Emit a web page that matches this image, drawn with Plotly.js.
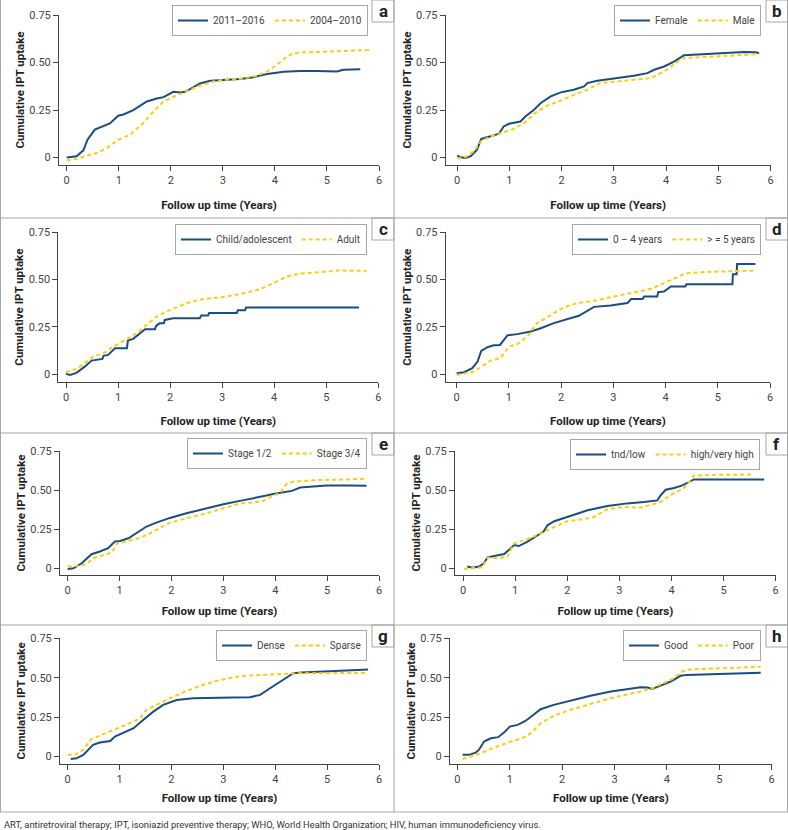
<!DOCTYPE html>
<html>
<head>
<meta charset="utf-8">
<script src="https://cdn.plot.ly/plotly-3.0.1.min.js"></script>
<style>html,body{margin:0;padding:0;background:#fff;}#chart{width:788px;height:830px;}</style>
</head>
<body>
<div id="chart"></div>
<script>
// ---------- DATA ----------
const panelLetters = ['a','b','c','d','e','f','g','h'];
const seriesNames = [
  ['2011–2016','2004–2010'],
  ['Female','Male'],
  ['Child/adolescent','Adult'],
  ['0 – 4 years','> = 5 years'],
  ['Stage 1/2','Stage 3/4'],
  ['tnd/low','high/very high'],
  ['Dense','Sparse'],
  ['Good','Poor']
];
const xTicks = [0,1,2,3,4,5,6];
const yTicks = [0,0.25,0.5,0.75];
const yTickText = ['0','0.25','0.50','0.75'];
const xTitle = 'Follow up time (Years)';
const yTitle = 'Cumulative IPT uptake';
const footnote = 'ART, antiretroviral therapy; IPT, isoniazid preventive therapy; WHO, World Health Organization; HIV, human immunodeficiency virus.';

// panel a
const aBlueX = [0,0.19,0.32,0.40,0.54,0.705,0.83,0.99,1.09,1.28,1.54,1.73,1.86,2.05,2.18,2.28,2.56,2.76,3.0,3.33,3.59,3.85,4.17,4.49,4.81,5.13,5.19,5.32,5.64];
const aBlueY = [0,0.007,0.038,0.094,0.147,0.164,0.18,0.22,0.227,0.25,0.295,0.311,0.318,0.346,0.343,0.346,0.39,0.404,0.409,0.413,0.423,0.44,0.451,0.455,0.455,0.455,0.453,0.462,0.465];
const aYellX = [0,0.19,0.385,0.58,0.77,0.99,1.22,1.47,1.67,1.86,2.05,2.28,2.56,2.82,3.0,3.33,3.65,3.85,4.04,4.23,4.36,4.62,5.0,5.38,5.83];
const aYellY = [-0.014,-0.007,0.01,0.024,0.05,0.094,0.12,0.182,0.243,0.295,0.32,0.348,0.378,0.4,0.409,0.414,0.43,0.453,0.488,0.531,0.549,0.554,0.558,0.561,0.566];
// panel b
const bBlueX = [0,0.064,0.16,0.26,0.38,0.46,0.64,0.8,0.89,0.99,1.21,1.31,1.47,1.6,1.79,1.98,2.23,2.43,2.49,2.68,3.0,3.38,3.64,3.77,3.96,4.15,4.34,4.72,5.1,5.49,5.71,5.78];
const bBlueY = [0.0105,0.002,-0.002,0.007,0.042,0.098,0.112,0.126,0.164,0.178,0.19,0.217,0.252,0.287,0.322,0.343,0.357,0.374,0.392,0.404,0.416,0.43,0.444,0.462,0.479,0.505,0.538,0.545,0.552,0.556,0.554,0.549];
const bYellX = [0,0.16,0.32,0.46,0.64,0.83,1.08,1.28,1.53,1.72,1.98,2.23,2.49,2.74,3.0,3.38,3.7,3.96,4.18,4.31,4.66,5.1,5.55,5.78];
const bYellY = [-0.005,0.003,0.033,0.086,0.112,0.129,0.15,0.182,0.243,0.273,0.299,0.33,0.357,0.392,0.4,0.409,0.418,0.453,0.497,0.523,0.528,0.535,0.542,0.544];
// panel c
const cBlueX = [0,0.08,0.2,0.36,0.49,0.65,0.7,0.72,0.81,0.94,1.17,1.19,1.29,1.52,1.71,1.73,1.8,1.88,1.9,2.06,2.57,2.6,2.73,2.75,3.28,3.3,3.44,3.46,5.63];
const cBlueY = [0.002,-0.004,0.007,0.04,0.072,0.081,0.081,0.097,0.102,0.137,0.137,0.178,0.187,0.238,0.238,0.255,0.269,0.269,0.287,0.296,0.296,0.31,0.31,0.324,0.324,0.338,0.338,0.352,0.352];
const cYellX = [0,0.2,0.4,0.52,0.72,0.91,1.17,1.36,1.55,1.74,2.0,2.32,2.64,2.96,3.34,3.73,3.98,4.24,4.49,4.88,5.26,5.77];
const cYellY = [0.011,0.028,0.067,0.093,0.111,0.146,0.187,0.217,0.261,0.305,0.34,0.375,0.398,0.405,0.423,0.449,0.481,0.516,0.532,0.542,0.548,0.546];
// panel d
const dBlueX = [0,0.14,0.3,0.4,0.47,0.59,0.71,0.83,0.97,1.16,1.42,1.61,1.86,2.12,2.34,2.63,2.95,3.27,3.34,3.56,3.59,3.84,3.86,3.97,4.1,4.38,4.4,5.28,5.29,5.36,5.37,5.72];
const dBlueY = [0.005,0.011,0.032,0.067,0.123,0.143,0.153,0.155,0.205,0.212,0.226,0.243,0.27,0.293,0.309,0.356,0.363,0.376,0.397,0.397,0.411,0.411,0.434,0.437,0.464,0.464,0.476,0.476,0.529,0.529,0.582,0.582];
const dYellX = [0,0.14,0.33,0.52,0.65,0.84,1.0,1.16,1.35,1.54,1.8,2.05,2.31,2.63,3.01,3.4,3.71,3.97,4.22,4.38,4.74,5.18,5.5,5.72];
const dYellY = [-0.004,0.002,0.014,0.049,0.072,0.085,0.146,0.159,0.199,0.27,0.314,0.353,0.376,0.388,0.411,0.432,0.45,0.481,0.511,0.533,0.54,0.543,0.547,0.548];
// panel e
const eBlueX = [0,0.11,0.27,0.46,0.62,0.78,0.91,1.01,1.17,1.33,1.52,1.71,1.97,2.29,2.68,3.0,3.32,3.71,3.83,3.96,4.16,4.32,4.48,4.67,4.99,5.44,5.76];
const eBlueY = [-0.004,0,0.032,0.09,0.107,0.128,0.171,0.175,0.192,0.228,0.267,0.292,0.322,0.352,0.384,0.409,0.431,0.454,0.465,0.475,0.484,0.495,0.516,0.522,0.529,0.529,0.527];
const eYellX = [0,0.24,0.37,0.49,0.69,0.85,0.94,1.14,1.39,1.59,1.78,1.97,2.29,2.68,3.0,3.32,3.58,3.74,3.9,4.1,4.21,4.35,4.73,5.12,5.5,5.76];
const eYellY = [0.011,0.017,0.028,0.064,0.085,0.1,0.156,0.171,0.194,0.224,0.26,0.292,0.32,0.352,0.384,0.414,0.422,0.426,0.454,0.484,0.537,0.554,0.563,0.565,0.569,0.574];
// panel f
const fBlueX = [0.08,0.18,0.31,0.4,0.47,0.6,0.79,0.88,0.98,1.07,1.23,1.42,1.55,1.62,1.75,2.0,2.39,2.77,3.15,3.47,3.73,3.79,3.89,4.05,4.21,4.43,4.75,5.78];
const fBlueY = [0.011,0.004,0.011,0.032,0.07,0.078,0.091,0.117,0.148,0.142,0.169,0.208,0.237,0.275,0.301,0.328,0.371,0.398,0.415,0.424,0.434,0.466,0.502,0.513,0.53,0.568,0.568,0.568];
const fYellX = [0.02,0.21,0.37,0.47,0.66,0.85,0.98,1.23,1.49,1.68,2.0,2.32,2.51,2.77,3.09,3.41,3.67,3.79,3.99,4.24,4.43,4.75,5.59];
const fYellY = [-0.004,0,0.006,0.068,0.064,0.074,0.159,0.186,0.222,0.254,0.301,0.314,0.328,0.377,0.392,0.388,0.413,0.424,0.47,0.513,0.593,0.597,0.6];
// panel g
const gBlueX = [0.06,0.17,0.3,0.4,0.49,0.62,0.82,0.91,1.14,1.27,1.46,1.65,1.84,2.1,2.42,2.81,3.19,3.51,3.71,3.9,4.16,4.35,4.51,4.86,5.25,5.79];
const gBlueY = [-0.015,-0.011,0.011,0.047,0.074,0.089,0.099,0.127,0.163,0.18,0.233,0.285,0.328,0.359,0.37,0.374,0.374,0.376,0.391,0.433,0.486,0.529,0.533,0.537,0.543,0.552];
const gYellX = [0,0.14,0.3,0.46,0.62,0.82,1.01,1.27,1.39,1.52,1.71,1.97,2.29,2.61,2.94,3.19,3.51,3.83,4.16,4.48,4.99,5.44,5.79];
const gYellY = [0.011,0.011,0.042,0.112,0.133,0.159,0.184,0.222,0.243,0.296,0.328,0.37,0.416,0.455,0.486,0.503,0.514,0.518,0.522,0.529,0.529,0.531,0.531];
// panel h
const hBlueX = [0.1,0.22,0.35,0.41,0.51,0.64,0.78,0.89,1.0,1.15,1.3,1.46,1.59,1.84,2.16,2.54,2.93,3.24,3.5,3.63,3.72,3.88,4.07,4.26,4.39,4.84,5.28,5.79];
const hBlueY = [0.011,0.011,0.025,0.042,0.095,0.116,0.123,0.152,0.19,0.201,0.226,0.264,0.3,0.328,0.355,0.385,0.412,0.429,0.44,0.438,0.429,0.45,0.476,0.512,0.518,0.522,0.526,0.531];
const hYellX = [0.1,0.25,0.45,0.64,0.83,1.02,1.27,1.4,1.59,1.84,2.1,2.42,2.74,3.12,3.5,3.72,3.94,4.13,4.29,4.42,4.83,5.28,5.79];
const hYellY = [-0.015,0,0.021,0.049,0.074,0.095,0.121,0.148,0.211,0.258,0.29,0.323,0.353,0.385,0.412,0.433,0.465,0.497,0.539,0.552,0.558,0.562,0.569];

const blueXs = [aBlueX,bBlueX,cBlueX,dBlueX,eBlueX,fBlueX,gBlueX,hBlueX];
const blueYs = [aBlueY,bBlueY,cBlueY,dBlueY,eBlueY,fBlueY,gBlueY,hBlueY];
const yellXs = [aYellX,bYellX,cYellX,dYellX,eYellX,fYellX,gYellX,hYellX];
const yellYs = [aYellY,bYellY,cYellY,dYellY,eYellY,fYellY,gYellY,hYellY];

// ---------- LAYOUT GEOMETRY (pixels) ----------
const W = 788, H = 830;
const FONT = 'Roboto, sans-serif';
const BLUE = '#1b4d7e', YELLOW = '#fdcc0d', GRID = '#a6a6a6';
// plot area per panel: [left, right, top, bottom, xmin, ymin]
const boxes = [
  [59, 379, 15, 165, -0.148, -0.039],
  [445.7, 770.7, 15, 165, -0.22, -0.039],
  [58.3, 378.3, 232.3, 382, -0.148, -0.041],
  [445.7, 770, 232.3, 382, -0.21, -0.041],
  [60, 379, 451, 575, -0.148, -0.043],
  [455, 775.7, 451, 575, -0.154, -0.043],
  [60, 379, 638.3, 763.5, -0.148, -0.044],
  [450, 771.7, 638.3, 763.5, -0.14, -0.044]
];
const xTitleStandoff = [14, 14, 13, 13, 10, 10, 9, 9];
const legendPos = [[368,5],[761,5],[367,224],[761,224],[367,438],[760,439],[367,630],[761,630]];
const rowTops = [0, 218, 433, 625];
const bottomLine = 812;

const px = x => x / W;
const py = y => 1 - y / H;

const data = [];
const layout = {
  width: W, height: H,
  margin: {l:0, r:0, t:0, b:0},
  paper_bgcolor: '#fff', plot_bgcolor: '#fff',
  font: {family: FONT, size: 11, color: '#333'},
  shapes: [], annotations: []
};

for (let i = 0; i < 8; i++) {
  const n = i === 0 ? '' : String(i + 1);
  const b = boxes[i];
  const lg = i === 0 ? 'legend' : 'legend' + (i + 1);
  data.push({
    x: blueXs[i], y: blueYs[i], xaxis: 'x' + n, yaxis: 'y' + n, legend: lg,
    type: 'scatter', mode: 'lines', name: seriesNames[i][0],
    line: {color: BLUE, width: 2}
  });
  data.push({
    x: yellXs[i], y: yellYs[i], xaxis: 'x' + n, yaxis: 'y' + n, legend: lg,
    type: 'scatter', mode: 'lines', name: seriesNames[i][1],
    line: {color: YELLOW, width: 2, dash: '4px,3px'}
  });
  layout['xaxis' + n] = {
    domain: [px(b[0]), px(b[1])], anchor: 'y' + n,
    range: [b[4], 6], tickvals: xTicks, ticks: 'outside', ticklen: 5,
    tickcolor: '#444', showline: true, linecolor: '#444', linewidth: 1,
    showgrid: false, zeroline: false, fixedrange: true,
    tickfont: {size: 11, color: '#444', family: FONT},
    title: {text: xTitle, font: {size: 11.5, color: '#222', family: FONT, weight: 'bold'}, standoff: xTitleStandoff[i]}
  };
  layout['yaxis' + n] = {
    domain: [py(b[3]), py(b[2])], anchor: 'x' + n,
    range: [b[5], 0.75], tickvals: yTicks, ticktext: yTickText, ticks: 'outside', ticklen: 5,
    tickcolor: '#444', showline: true, linecolor: '#444', linewidth: 1,
    showgrid: false, zeroline: false, fixedrange: true,
    tickfont: {size: 11, color: '#444', family: FONT},
    title: {text: yTitle, font: {size: 11.5, color: '#222', family: FONT, weight: 'bold'}, standoff: 2}
  };
  layout[lg] = {
    orientation: 'h', x: px(legendPos[i][0]), y: py(legendPos[i][1]),
    xanchor: 'right', yanchor: 'top', bgcolor: '#fff',
    bordercolor: GRID, borderwidth: 1,
    font: {size: 10, color: '#444', family: FONT},
    itemwidth: 30, traceorder: 'normal'
  };
  // letter box
  const col = i % 2, row = Math.floor(i / 2);
  const bx0 = col === 0 ? 372 : 766, bx1 = col === 0 ? 394 : 787.5;
  const by0 = rowTops[row], by1 = rowTops[row] + 22;
  layout.shapes.push({type: 'rect', xref: 'paper', yref: 'paper',
    x0: px(bx0), x1: px(bx1), y0: py(by0), y1: py(by1),
    line: {color: GRID, width: 1}, fillcolor: '#fff'});
  layout.annotations.push({xref: 'paper', yref: 'paper', x: px((bx0 + bx1) / 2), y: py(by0 + 11),
    text: '<b>' + panelLetters[i] + '</b>', showarrow: false, xanchor: 'center', yanchor: 'middle',
    font: {size: 17, color: '#222', family: FONT}});
}

// panel borders
const hl = (y) => ({type:'line', xref:'paper', yref:'paper', x0: 0, x1: 1, y0: py(y), y1: py(y), line:{color: GRID, width: 1}});
[218, 433, 625, bottomLine].forEach(y => layout.shapes.push(hl(y)));
layout.shapes.push({type:'line', xref:'paper', yref:'paper', x0: px(394), x1: px(394), y0: py(0), y1: py(bottomLine), line:{color: GRID, width:1}});
layout.shapes.push({type:'line', xref:'paper', yref:'paper', x0: px(0.5), x1: px(0.5), y0: py(0), y1: py(bottomLine), line:{color: GRID, width:1}});
layout.shapes.push({type:'line', xref:'paper', yref:'paper', x0: px(787.5), x1: px(787.5), y0: py(0), y1: py(bottomLine), line:{color: GRID, width:1}});

layout.annotations.push({xref:'paper', yref:'paper', x: px(2), y: py(824), xanchor:'left', yanchor:'middle',
  text: footnote, showarrow:false, font:{size: 9.4, color:'#333', family: FONT}});

Plotly.newPlot('chart', data, layout, {displayModeBar: false, staticPlot: true});
</script>
</body>
</html>
